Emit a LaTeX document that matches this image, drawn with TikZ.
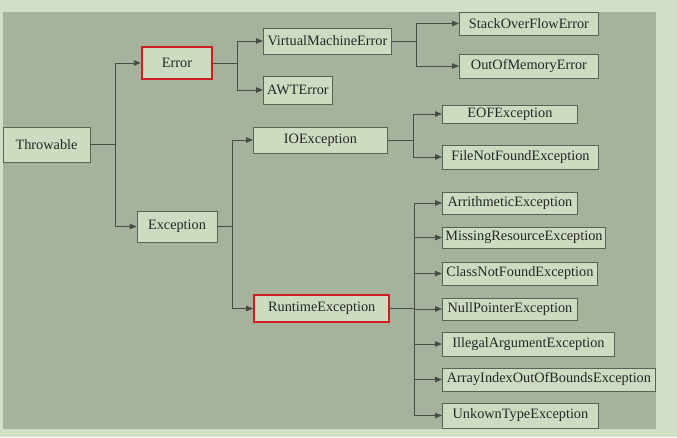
\documentclass[tikz,border=0pt]{standalone}
\usepackage{fontspec}
\setmainfont{Liberation Serif}
\usepackage{tikz}
\usetikzlibrary{arrows.meta,positioning}
\definecolor{pagebg}{HTML}{D0DFC6}
\definecolor{panel}{HTML}{A7B29D}
\definecolor{boxfill}{HTML}{CDDCC1}
\definecolor{boxline}{HTML}{5A6156}
\definecolor{wire}{HTML}{474D45}
\definecolor{mark}{HTML}{CC1F24}

\begin{document}
\begin{tikzpicture}[
    x=1pt, y=-1pt,
    box/.style={draw=boxline, fill=boxfill, line width=0.9pt, inner sep=0pt,
                font=\fontsize{14.3}{16}\selectfont, text=black!85},
    leaf/.style={box, anchor=west},
    hot/.style={box, draw=mark, line width=2.4pt},
    arrow/.style={-{Triangle[length=7pt,width=5.5pt]}, line width=0.9pt, draw=wire}
  ]
    \useasboundingbox (0,0) rectangle (677,437);
    \fill[pagebg] (0,0) rectangle (677,437);
    \fill[panel] (3,12) rectangle (656,429);

    % root and first level
    \node[box, minimum width=87pt, minimum height=35pt] (throwable) at (46.5,144.5) {Throwable};
    \node[hot, minimum width=70pt, minimum height=32pt] (error) at (177,63) {Error};
    \node[box, minimum width=80pt, minimum height=31pt] (exception) at (177,226.5) {Exception};

    % second level
    \node[leaf, minimum width=128pt, minimum height=26pt] (vmerror) at (263,41) {VirtualMachineError};
    \node[leaf, minimum width=69pt, minimum height=28pt] (awterror) at (263,90) {AWTError};
    \node[leaf, minimum width=134pt, minimum height=26pt] (ioexc) at (253,140) {IOException};
    \node[hot, anchor=west, minimum width=135pt, minimum height=27pt] (runtime) at (253,308.5) {RuntimeException};

    % third level
    \node[leaf, minimum width=139pt, minimum height=23pt] (stackof) at (459,23.5) {StackOverFlowError};
    \node[leaf, minimum width=139pt, minimum height=24pt] (oom) at (459,66) {OutOfMemoryError};
    \node[leaf, minimum width=135pt, minimum height=18pt] (eof) at (442,114) {EOFException};
    \node[leaf, minimum width=156pt, minimum height=24pt] (fnf) at (442,157) {FileNotFoundException};
    \node[leaf, minimum width=135pt, minimum height=22pt] (arith) at (442,203) {ArrithmeticException};
    \node[leaf, minimum width=163pt, minimum height=21pt] (missing) at (442,237.5) {MissingResourceException};
    \node[leaf, minimum width=155pt, minimum height=23pt] (classnf) at (442,273.5) {ClassNotFoundException};
    \node[leaf, minimum width=135pt, minimum height=22pt] (nullptr) at (442,309) {NullPointerException};
    \node[leaf, minimum width=172pt, minimum height=24pt] (illegal) at (442,344) {IllegalArgumentException};
    \node[leaf, minimum width=213pt, minimum height=23pt] (arrayidx) at (442,379.5) {ArrayIndexOutOfBoundsException};
    \node[leaf, minimum width=156pt, minimum height=25pt] (unknown) at (442,415.5) {UnkownTypeException};

    % connectors
    \foreach \n in {error,exception}
      \draw[arrow] (throwable.east) -- ++(25,0) |- (\n.west);
    \foreach \n in {vmerror,awterror}
      \draw[arrow] (error.east) -- ++(24,0) |- (\n.west);
    \foreach \n in {ioexc,runtime}
      \draw[arrow] (exception.east) -- ++(15,0) |- (\n.west);
    \foreach \n in {stackof,oom}
      \draw[arrow] (vmerror.east) -- ++(25,0) |- (\n.west);
    \foreach \n in {eof,fnf}
      \draw[arrow] (ioexc.east) -- ++(26,0) |- (\n.west);
    \foreach \n in {arith,missing,classnf,nullptr,illegal,arrayidx,unknown}
      \draw[arrow] (runtime.east) -- ++(24,0) |- (\n.west);
  \end{tikzpicture}
\end{document}
